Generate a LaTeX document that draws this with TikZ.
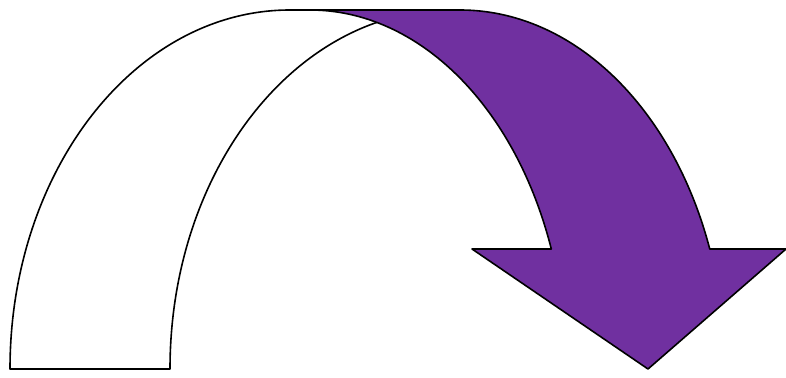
\documentclass[tikz,border=0pt]{standalone}
\usepackage{tikz}
\usetikzlibrary{arrows.meta,positioning}
\definecolor{officepurple}{RGB}{112,48,160}

\begin{document}
\begin{tikzpicture}[
    x=1pt, y=1pt,
    line join=round,
    band/.style={draw=black, line width=1.6pt}
]
\useasboundingbox (0,0) rectangle (786,377);

% Key points
\coordinate (BL)   at (10,8);
\coordinate (TopR) at (450,367);
\coordinate (PTop) at (310,367);
\coordinate (HeadL) at (472,128);
\coordinate (HeadR) at (786,128);
\coordinate (Tip)  at (648,8);

% White band (behind)
\draw[band, fill=white] (BL)
    arc[start angle=180, end angle=90, x radius=280pt, y radius=359pt]
    -- (TopR)
    arc[start angle=90, end angle=180, x radius=280pt, y radius=359pt]
    -- cycle;

% Purple band with arrow head
\draw[band, fill=officepurple] (PTop) -- (460,367)
    arc[start angle=90, end angle=19.53, x radius=265pt, y radius=359pt]
    -- (HeadR) -- (Tip) -- (HeadL) -- (551.3,128)
    arc[start angle=19.53, end angle=90, x radius=256pt, y radius=359pt]
    -- cycle;

\end{tikzpicture}
\end{document}
